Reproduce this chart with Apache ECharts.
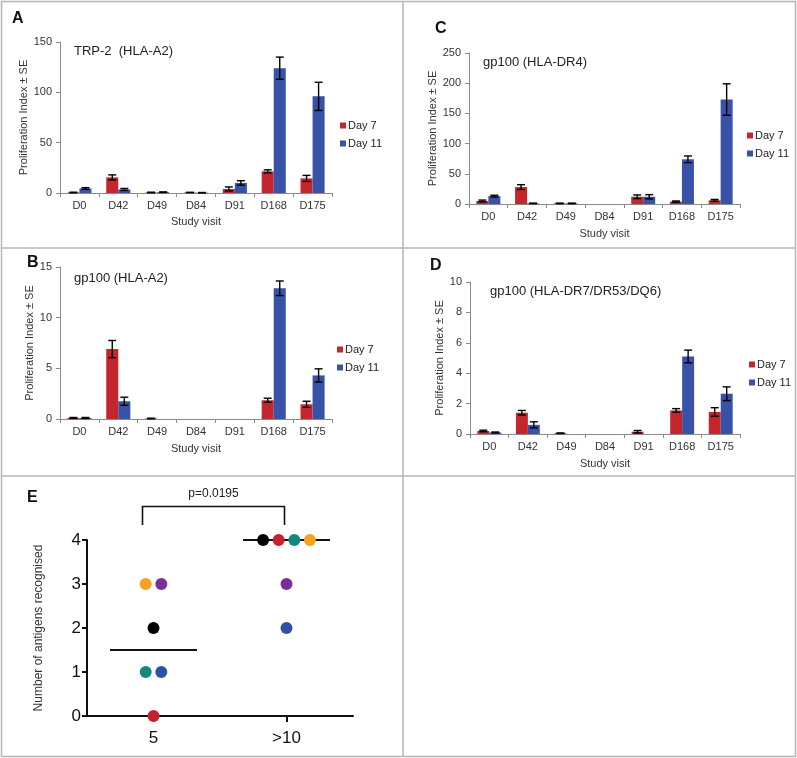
<!DOCTYPE html>
<html><head><meta charset="utf-8">
<script src="https://cdn.jsdelivr.net/npm/echarts@6/dist/echarts.min.js"></script>
<style>html,body{margin:0;padding:0;background:#fff}#c{width:797px;height:758px}</style>
</head><body><div id="c"></div>
<script>
// ---------- data ----------
const visits = ['D0', 'D42', 'D49', 'D84', 'D91', 'D168', 'D175'];
const seriesNames = ['Day 7', 'Day 11'];

// Panel A: TRP-2 (HLA-A2)
const aDay7 = [0.5, 15.5, 0.5, 0.5, 4, 21.5, 14.5];
const aDay7Err = [0.3, 2.5, 0.3, 0.2, 2, 1.5, 3];
const aDay11 = [4.5, 3.5, 0.8, 0.3, 10, 124, 96];
const aDay11Err = [0.8, 1, 0.3, 0.2, 2.2, 11, 14];

// Panel B: gp100 (HLA-A2)
const bDay7 = [0.1, 6.9, 0.05, 0, 0, 1.85, 1.45];
const bDay7Err = [0.05, 0.85, 0.03, 0, 0, 0.2, 0.3];
const bDay11 = [0.1, 1.75, 0, 0, 0, 12.9, 4.3];
const bDay11Err = [0.05, 0.4, 0, 0, 0, 0.72, 0.65];

// Panel C: gp100 (HLA-DR4)
const cDay7 = [5, 28, 1, 0, 12, 4, 6];
const cDay7Err = [1.5, 4, 0.5, 0, 3, 1, 1.5];
const cDay11 = [13, 1, 1, 0, 12, 74, 173];
const cDay11Err = [1.5, 0.5, 0.5, 0, 3.5, 5.5, 26];

// Panel D: gp100 (HLA-DR7/DR53/DQ6)
const dDay7 = [0.2, 1.4, 0.05, 0, 0.15, 1.55, 1.45];
const dDay7Err = [0.05, 0.15, 0.02, 0, 0.08, 0.12, 0.28];
const dDay11 = [0.1, 0.6, 0, 0, 0, 5.1, 2.65];
const dDay11Err = [0.03, 0.2, 0, 0, 0, 0.42, 0.45];

// Panel E: number of antigens recognised
const eCategories = ['5', '>10'];
const e5Values = [3, 3, 2, 1, 1, 0];
const e5Colors = ['orange', 'purple', 'black', 'teal', 'blue', 'red'];
const e10Values = [4, 4, 4, 4, 3, 2];
const e10Colors = ['black', 'red', 'teal', 'orange', 'purple', 'blue'];
const eMedians = [1.5, 4];
const pValueText = 'p=0.0195';

// ---------- styles ----------
const FONT = "'Liberation Sans', Arial, sans-serif";
const RED = '#c3262d', BLUE = '#3752a6';
const dotPalette = {orange:'#f7a11f', purple:'#7a2e98', black:'#000000', teal:'#14877f', blue:'#2f50a8', red:'#c8212b'};
const GAP = 0.38;
const BORDER = '#b5b5b5';

const chart = echarts.init(document.getElementById('c'));

const panels = [
  {letter:'A', title:'TRP-2  (HLA-A2)', grid:{left:60, top:42, width:272, height:151}, max:150, interval:50,
   d7:aDay7, e7:aDay7Err, d11:aDay11, e11:aDay11Err, yGap:25, xGap:23,
   letterPos:[12, 11], titlePos:[74, 45], legend:{left:340, top:120}},
  {letter:'C', title:'gp100 (HLA-DR4)', grid:{left:469, top:53, width:271, height:151}, max:250, interval:50,
   d7:cDay7, e7:cDay7Err, d11:cDay11, e11:cDay11Err, yGap:21, xGap:24,
   letterPos:[435, 21], titlePos:[483, 56], legend:{left:747, top:130}},
  {letter:'B', title:'gp100 (HLA-A2)', grid:{left:60, top:267, width:272, height:152}, max:15, interval:5,
   d7:bDay7, e7:bDay7Err, d11:bDay11, e11:bDay11Err, yGap:24, xGap:24,
   letterPos:[27, 255], titlePos:[74, 272], legend:{left:337, top:344}},
  {letter:'D', title:'gp100 (HLA-DR7/DR53/DQ6)', grid:{left:470, top:282, width:270, height:152}, max:10, interval:2,
   d7:dDay7, e7:dDay7Err, d11:dDay11, e11:dDay11Err, yGap:16, xGap:24,
   letterPos:[430, 258], titlePos:[490, 285], legend:{left:749, top:359}}
];

function errSeries(gi, vals, errs, side) {
  return {
    type:'custom', name:'err', xAxisIndex:gi, yAxisIndex:gi, z:5, silent:true,
    data: vals.map((v, i) => [i, v, errs[i]]),
    renderItem(params, api) {
      const i = api.value(0), v = api.value(1), e = api.value(2);
      if (!e) return;
      const band = api.size([1, 0])[0];
      const barW = band * (1 - GAP) / 2;
      const cx = api.coord([i, v])[0] + side * barW / 2;
      const yTop = api.coord([i, v + e])[1];
      const yBot = api.coord([i, Math.max(0, v - e)])[1];
      const cap = 4, st = {stroke:'#000', lineWidth:1.4};
      return {type:'group', children:[
        {type:'line', shape:{x1:cx, y1:yTop, x2:cx, y2:yBot}, style:st},
        {type:'line', shape:{x1:cx - cap, y1:yTop, x2:cx + cap, y2:yTop}, style:st},
        {type:'line', shape:{x1:cx - cap, y1:yBot, x2:cx + cap, y2:yBot}, style:st}
      ]};
    }
  };
}

const grids = [], xAxes = [], yAxes = [], series = [], legends = [], graphics = [];

panels.forEach((p, gi) => {
  grids.push(Object.assign({containLabel:false}, p.grid));
  xAxes.push({
    type:'category', gridIndex:gi, data:visits,
    name:'Study visit', nameLocation:'middle', nameGap:p.xGap,
    nameTextStyle:{fontSize:11, color:'#333', fontFamily:FONT},
    axisLine:{lineStyle:{color:'#8a8a8a', width:1}},
    axisTick:{show:true, length:4, lineStyle:{color:'#8a8a8a'}},
    axisLabel:{fontSize:11, color:'#333', margin:7, fontFamily:FONT, interval:0}
  });
  yAxes.push({
    type:'value', gridIndex:gi, min:0, max:p.max, interval:p.interval,
    name:'Proliferation Index \u00b1 SE', nameLocation:'middle', nameGap:p.yGap,
    nameTextStyle:{fontSize:11, color:'#333', fontFamily:FONT},
    axisLine:{show:true, lineStyle:{color:'#8a8a8a', width:1}},
    axisTick:{show:true, length:4, lineStyle:{color:'#8a8a8a'}},
    splitLine:{show:false},
    axisLabel:{fontSize:11, color:'#333', margin:8, fontFamily:FONT}
  });
  series.push({type:'bar', name:seriesNames[0], xAxisIndex:gi, yAxisIndex:gi, data:p.d7,
    itemStyle:{color:RED}, barGap:'0%', barCategoryGap:(GAP*100)+'%', silent:true});
  series.push({type:'bar', name:seriesNames[1], xAxisIndex:gi, yAxisIndex:gi, data:p.d11,
    itemStyle:{color:BLUE}, barGap:'0%', barCategoryGap:(GAP*100)+'%', silent:true});
  series.push(errSeries(gi, p.d7, p.e7, -1));
  series.push(errSeries(gi, p.d11, p.e11, 1));
  legends.push({data:seriesNames, orient:'vertical', left:p.legend.left, top:p.legend.top,
    icon:'rect', itemWidth:6, itemHeight:6, itemGap:7, padding:0,
    textStyle:{fontSize:11, color:'#222', fontFamily:FONT, padding:[0,0,0,-3]}});
  graphics.push({type:'text', x:p.letterPos[0], y:p.letterPos[1],
    style:{text:p.letter, font:"bold 16px " + FONT, fill:'#111'}});
  graphics.push({type:'text', x:p.titlePos[0], y:p.titlePos[1],
    style:{text:p.title, font:"13px " + FONT, fill:'#222'}});
});

// Panel E
const eGi = 4;
grids.push({left:87, top:540, width:266, height:176});
xAxes.push({
  type:'category', gridIndex:eGi, data:eCategories,
  axisLine:{lineStyle:{color:'#111', width:2}},
  axisTick:{show:true, alignWithLabel:true, length:6, lineStyle:{color:'#111', width:2}},
  axisLabel:{fontSize:17, color:'#111', margin:14, fontFamily:FONT}
});
yAxes.push({
  type:'value', gridIndex:eGi, min:0, max:4, interval:1,
  name:'Number of antigens recognised', nameLocation:'middle', nameGap:42,
  nameTextStyle:{fontSize:12, color:'#333', fontFamily:FONT},
  axisLine:{show:true, lineStyle:{color:'#111', width:2}},
  axisTick:{show:true, length:5, lineStyle:{color:'#111', width:2}},
  splitLine:{show:false},
  axisLabel:{fontSize:17, color:'#111', margin:6, fontFamily:FONT}
});

function dotData(gIdx, values, colors) {
  return values.map((v, k) => {
    const same = values.map((w, j) => [w, j]).filter(a => a[0] === v).map(a => a[1]);
    const j = same.indexOf(k), n = same.length;
    const off = (j - (n - 1) / 2) * 15.6;
    return {value:[gIdx, v], itemStyle:{color:dotPalette[colors[k]], opacity:1}, symbolOffset:[off, 0]};
  });
}

series.push({
  type:'custom', name:'median', xAxisIndex:eGi, yAxisIndex:eGi, z:2, silent:true,
  data: eMedians.map((m, i) => [i, m]),
  renderItem(params, api) {
    const c = api.coord([api.value(0), api.value(1)]);
    const band = api.size([1, 0])[0];
    const hw = band * 0.327;
    return {type:'line', shape:{x1:c[0] - hw, y1:c[1], x2:c[0] + hw, y2:c[1]},
      style:{stroke:'#111', lineWidth:2}};
  }
});
series.push({
  type:'scatter', name:'dots', xAxisIndex:eGi, yAxisIndex:eGi, z:4, silent:true,
  symbol:'circle', symbolSize:12, itemStyle:{opacity:1},
  data: dotData(0, e5Values, e5Colors).concat(dotData(1, e10Values, e10Colors))
});
series.push({
  type:'custom', name:'bracket', xAxisIndex:eGi, yAxisIndex:eGi, z:3, silent:true, clip:false,
  data:[[0, 1]],
  renderItem(params, api) {
    const top = api.coord([0, 4.76])[1];
    const bot = api.coord([0, 4.34])[1];
    const xl = api.coord([0, 0])[0] - 11;
    const xr = api.coord([1, 0])[0] - 2;
    const st = {stroke:'#111', lineWidth:1.6};
    return {type:'group', children:[
      {type:'polyline', shape:{points:[[xl, bot], [xl, top], [xr, top], [xr, bot]]}, style:Object.assign({fill:null}, st)},
      {type:'text', style:{text:pValueText, x:(xl + xr) / 2, y:top - 7, align:'center', verticalAlign:'bottom',
        font:"12px " + FONT, fill:'#222'}}
    ]};
  }
});
graphics.push({type:'text', x:27, y:490, style:{text:'E', font:"bold 16px " + FONT, fill:'#111'}});

// Panel borders
const bst = {stroke:BORDER, lineWidth:1.5};
graphics.push({type:'rect', shape:{x:1.5, y:1.5, width:794, height:755}, style:{fill:null, stroke:BORDER, lineWidth:1.5}});
graphics.push({type:'line', shape:{x1:403, y1:1, x2:403, y2:757}, style:bst});
graphics.push({type:'line', shape:{x1:1, y1:248, x2:796, y2:248}, style:bst});
graphics.push({type:'line', shape:{x1:1, y1:476, x2:796, y2:476}, style:bst});

chart.setOption({
  animation:false,
  textStyle:{fontFamily:FONT},
  grid:grids, xAxis:xAxes, yAxis:yAxes, series:series, legend:legends,
  graphic:graphics
});
</script>
</body></html>
